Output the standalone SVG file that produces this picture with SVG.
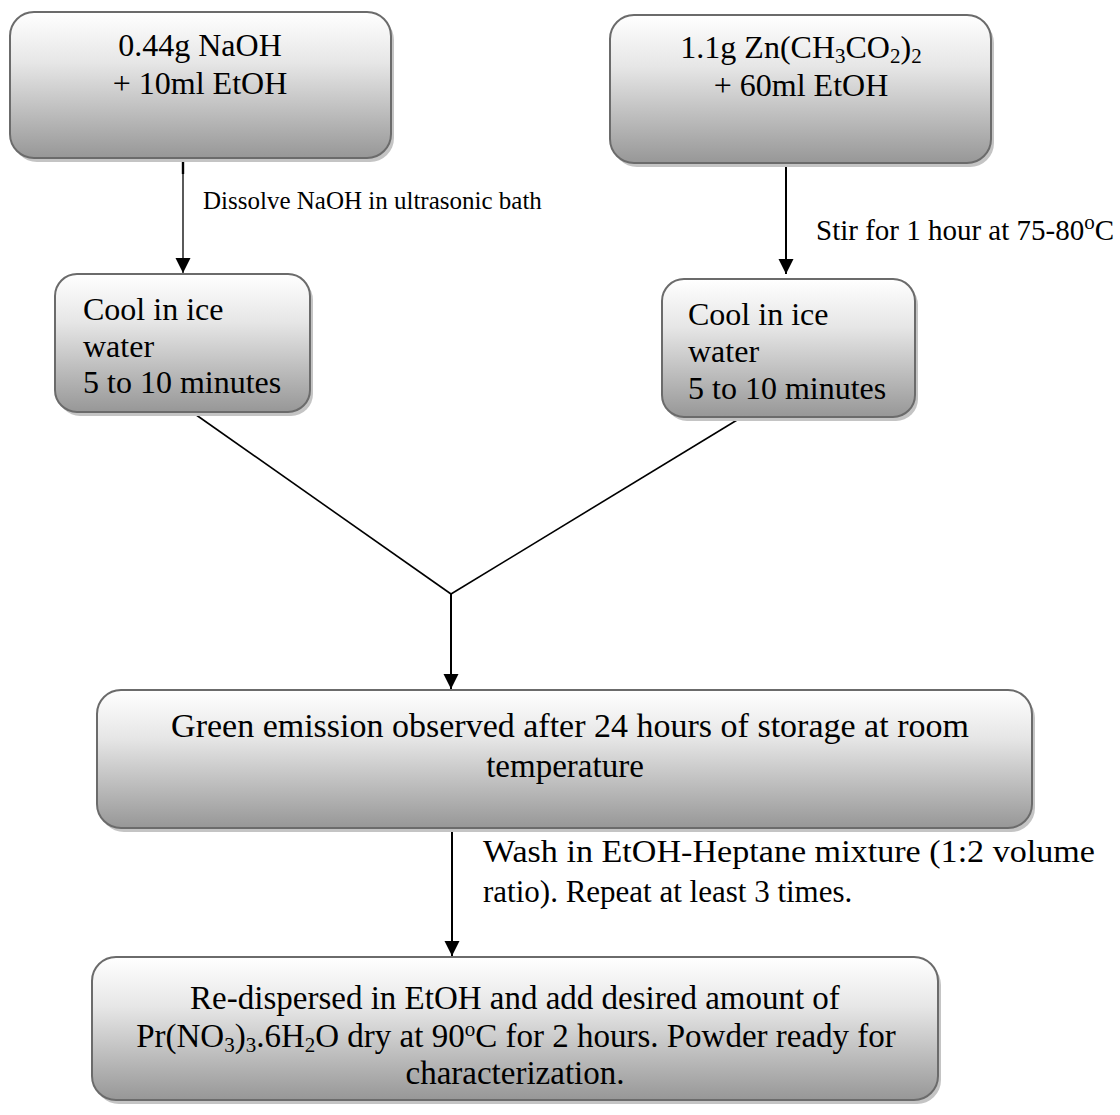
<svg xmlns="http://www.w3.org/2000/svg" width="1120" height="1115" viewBox="0 0 1120 1115">
  <defs>
    <linearGradient id="boxFill" x1="0" y1="0" x2="0" y2="1">
      <stop offset="0" stop-color="#ffffff"/>
      <stop offset="0.35" stop-color="#e6e6e6"/>
      <stop offset="1" stop-color="#979797"/>
    </linearGradient>
    <marker id="arrow" markerUnits="userSpaceOnUse" markerWidth="16" markerHeight="16" refX="15" refY="7.5" orient="auto">
      <path d="M0,0 L15,7.5 L0,15 Z" fill="#000"/>
    </marker>
    <style>
      .box { fill: url(#boxFill); stroke: #6b6b6b; stroke-width: 2; }
      .shadow { fill: #c4c4c4; }
      .t { font-family: "Liberation Serif", "Times New Roman", serif; font-size: 32px; fill: #000; }
      .c { text-anchor: middle; }
      .lbl { font-family: "Liberation Serif", "Times New Roman", serif; fill: #000; }
      .sb { font-size: 21px; }
      .conn line { stroke: #000; stroke-width: 2; fill: none; }
    </style>
  </defs>

  <rect width="1120" height="1115" fill="#fff"/>

  <!-- connectors -->
  <g id="connectors" class="conn">
    <line x1="183" y1="159" x2="183" y2="174" style="stroke-width:2.4"/>
    <line x1="183" y1="160" x2="183" y2="273" style="stroke-width:1.3" marker-end="url(#arrow)"/>
    <line x1="786" y1="163" x2="786" y2="274" marker-end="url(#arrow)"/>
    <line x1="192" y1="412" x2="451" y2="594" style="stroke-width:1.6"/>
    <line x1="742" y1="417" x2="451" y2="594" style="stroke-width:1.6"/>
    <line x1="451" y1="593" x2="451" y2="689" marker-end="url(#arrow)"/>
    <line x1="452" y1="829" x2="452" y2="956" marker-end="url(#arrow)"/>
  </g>

  <!-- connector labels -->
  <g id="labels">
    <text class="lbl" x="203" y="209" font-size="25">Dissolve NaOH in ultrasonic bath</text>
    <text class="lbl" x="816" y="240" font-size="29">Stir for 1 hour at 75-80<tspan class="sb" baseline-shift="11">o</tspan>C</text>
    <text class="lbl" x="483" y="862" font-size="32" textLength="612" lengthAdjust="spacingAndGlyphs">Wash in EtOH-Heptane mixture (1:2 volume</text>
    <text class="lbl" x="483" y="902" font-size="31">ratio). Repeat at least 3 times.</text>
  </g>

  <!-- NaOH solution -->
  <g id="naoh">
    <rect class="shadow" x="13" y="16" width="381" height="146" rx="24"/>
    <rect class="box" x="10" y="12" width="381" height="146" rx="24"/>
    <text class="t c" x="200" y="56">0.44g NaOH</text>
    <text class="t c" x="200" y="94">+ 10ml EtOH</text>
  </g>

  <!-- zinc acetate solution -->
  <g id="zinc">
    <rect class="shadow" x="613" y="19" width="381" height="148" rx="24"/>
    <rect class="box" x="610" y="15" width="381" height="148" rx="24"/>
    <text class="t c" x="801" y="58">1.1g Zn(CH<tspan class="sb" baseline-shift="-5">3</tspan>CO<tspan class="sb" baseline-shift="-5">2</tspan>)<tspan class="sb" baseline-shift="-5">2</tspan></text>
    <text class="t c" x="801" y="96">+ 60ml EtOH</text>
  </g>

  <!-- cooling, left branch -->
  <g id="cool-left">
    <rect class="shadow" x="58" y="278" width="255" height="138" rx="22"/>
    <rect class="box" x="55" y="274" width="255" height="138" rx="22"/>
    <text class="t" x="83" y="320">Cool in ice</text>
    <text class="t" x="83" y="357">water</text>
    <text class="t" x="83" y="393">5 to 10 minutes</text>
  </g>

  <!-- cooling, right branch -->
  <g id="cool-right">
    <rect class="shadow" x="665" y="283" width="253" height="138" rx="22"/>
    <rect class="box" x="662" y="279" width="253" height="138" rx="22"/>
    <text class="t" x="688" y="325">Cool in ice</text>
    <text class="t" x="688" y="362">water</text>
    <text class="t" x="688" y="399">5 to 10 minutes</text>
  </g>

  <!-- storage -->
  <g id="storage">
    <rect class="shadow" x="100" y="694" width="935" height="138" rx="24"/>
    <rect class="box" x="97" y="690" width="935" height="138" rx="24"/>
    <text class="t c" x="570" y="737" style="font-size:34px">Green emission observed after 24 hours of storage at room</text>
    <text class="t c" x="565" y="777" style="font-size:33px">temperature</text>
  </g>

  <!-- doping and drying -->
  <g id="doping">
    <rect class="shadow" x="95" y="961" width="846" height="143" rx="24"/>
    <rect class="box" x="92" y="957" width="846" height="143" rx="24"/>
    <text class="t c" x="515" y="1009" style="font-size:33px">Re-dispersed in EtOH and add desired amount of</text>
    <text class="t c" x="516" y="1047" style="font-size:33px">Pr(NO<tspan class="sb" baseline-shift="-5">3</tspan>)<tspan class="sb" baseline-shift="-5">3</tspan>.6H<tspan class="sb" baseline-shift="-5">2</tspan>O dry at 90<tspan class="sb" baseline-shift="11">o</tspan>C for 2 hours. Powder ready for</text>
    <text class="t c" x="515" y="1084" style="font-size:33px">characterization.</text>
  </g>
</svg>
